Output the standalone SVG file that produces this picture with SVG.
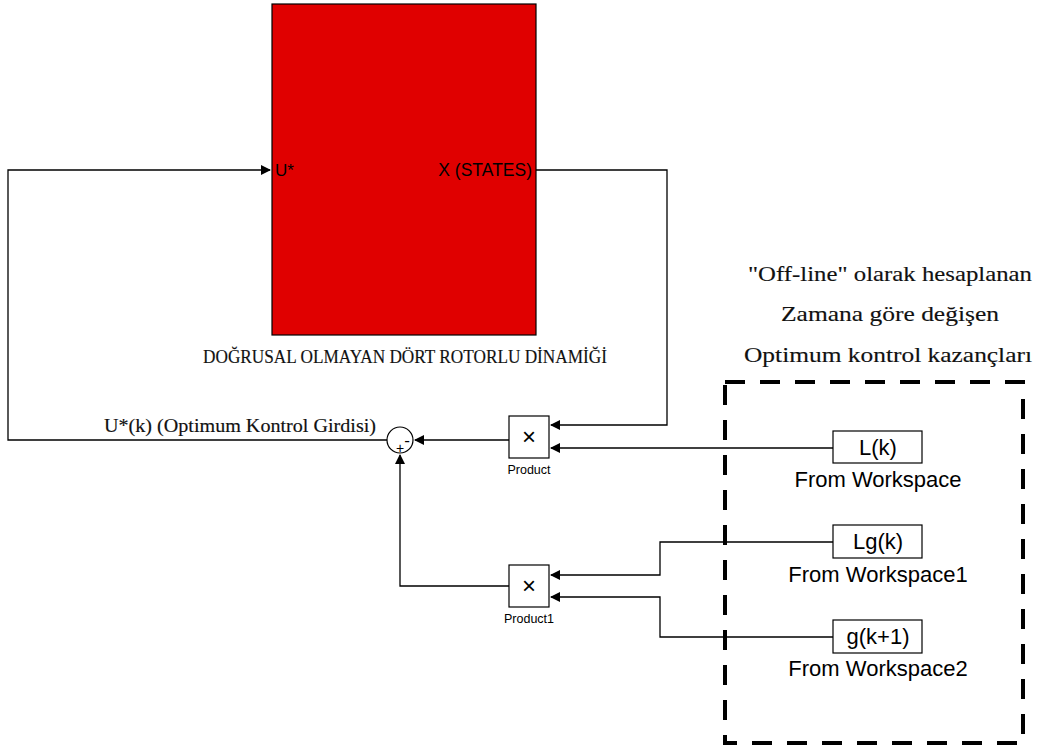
<svg xmlns="http://www.w3.org/2000/svg" width="1043" height="749" viewBox="0 0 1043 749">
<style>
.ln{fill:none;stroke:#000;stroke-width:1.3}
.blk{fill:#fff;stroke:#000;stroke-width:1.2}
.ar{font-family:"Liberation Sans",Arial,sans-serif;fill:#000}
.sr{font-family:"Liberation Serif","DejaVu Serif",serif;fill:#111;stroke:#111;stroke-width:0.15}
</style>
<defs>
<marker id="ah" markerWidth="10" markerHeight="10" refX="9" refY="5" orient="auto" markerUnits="userSpaceOnUse">
<path d="M0,0 L10,5 L0,10 z" fill="#000"/>
</marker>
</defs>
<rect width="1043" height="749" fill="#fff"/>
<g id="plant">
<rect x="272" y="4" width="264" height="331" fill="#e00000" stroke="#000" stroke-width="1.2"/>
<text class="ar" x="275" y="176" font-size="17">U*</text>
<text class="ar" x="532" y="176" font-size="17.5" text-anchor="end">X (STATES)</text>
<text class="sr" x="405" y="363" font-size="18" text-anchor="middle" textLength="404" lengthAdjust="spacingAndGlyphs">DOĞRUSAL OLMAYAN DÖRT ROTORLU DİNAMİĞİ</text>
</g>
<g id="sum">
<circle cx="400" cy="440" r="13" fill="#fff" stroke="#000" stroke-width="1.2"/>
<text class="ar" x="407" y="446" font-size="17" text-anchor="middle">-</text>
<text class="ar" x="400" y="453" font-size="14" text-anchor="middle">+</text>
</g>
<g id="product">
<rect class="blk" x="509" y="416" width="40" height="42"/>
<text class="ar" x="529" y="445" font-size="24" text-anchor="middle">×</text>
<text class="ar" x="529" y="474" font-size="12.5" text-anchor="middle">Product</text>
</g>
<g id="product1">
<rect class="blk" x="509" y="565" width="40" height="42"/>
<text class="ar" x="529" y="594" font-size="24" text-anchor="middle">×</text>
<text class="ar" x="529" y="623" font-size="12.5" text-anchor="middle">Product1</text>
</g>
<g id="fw">
<rect class="blk" x="833" y="431" width="89" height="32"/>
<text class="ar" x="878" y="455" font-size="22" text-anchor="middle">L(k)</text>
<text class="ar" x="878" y="487" font-size="22" text-anchor="middle">From Workspace</text>
</g>
<g id="fw1">
<rect class="blk" x="833" y="525" width="89" height="33"/>
<text class="ar" x="878" y="549" font-size="22" text-anchor="middle">Lg(k)</text>
<text class="ar" x="878" y="582" font-size="22" text-anchor="middle">From Workspace1</text>
</g>
<g id="fw2">
<rect class="blk" x="833" y="620" width="89" height="33"/>
<text class="ar" x="878" y="644" font-size="22" text-anchor="middle">g(k+1)</text>
<text class="ar" x="878" y="676" font-size="22" text-anchor="middle">From Workspace2</text>
</g>
<g id="gains">
<rect x="725" y="382" width="298" height="361" fill="none" stroke="#000" stroke-width="4" stroke-dasharray="20,15"/>
<text class="sr" x="890" y="281" font-size="22" text-anchor="middle" textLength="284" lengthAdjust="spacingAndGlyphs">"Off-line" olarak hesaplanan</text>
<text class="sr" x="890" y="321" font-size="22" text-anchor="middle" textLength="218" lengthAdjust="spacingAndGlyphs">Zamana göre değişen</text>
<text class="sr" x="888" y="362" font-size="22" text-anchor="middle" textLength="288" lengthAdjust="spacingAndGlyphs">Optimum kontrol kazançları</text>
</g>
<g id="connectors">
<path class="ln" d="M387,440 H8 V170 H270" marker-end="url(#ah)"/>
<text class="sr" x="240" y="432" font-size="18" text-anchor="middle" textLength="272" lengthAdjust="spacingAndGlyphs">U*(k) (Optimum Kontrol Girdisi)</text>
<path class="ln" d="M536,170 H667 V425 H551" marker-end="url(#ah)"/>
<path class="ln" d="M833,448 H551" marker-end="url(#ah)"/>
<path class="ln" d="M509,440 H415" marker-end="url(#ah)"/>
<path class="ln" d="M509,586 H400 V455" marker-end="url(#ah)"/>
<path class="ln" d="M833,542 H660 V575 H551" marker-end="url(#ah)"/>
<path class="ln" d="M833,637 H660 V597 H551" marker-end="url(#ah)"/>
</g>
</svg>
